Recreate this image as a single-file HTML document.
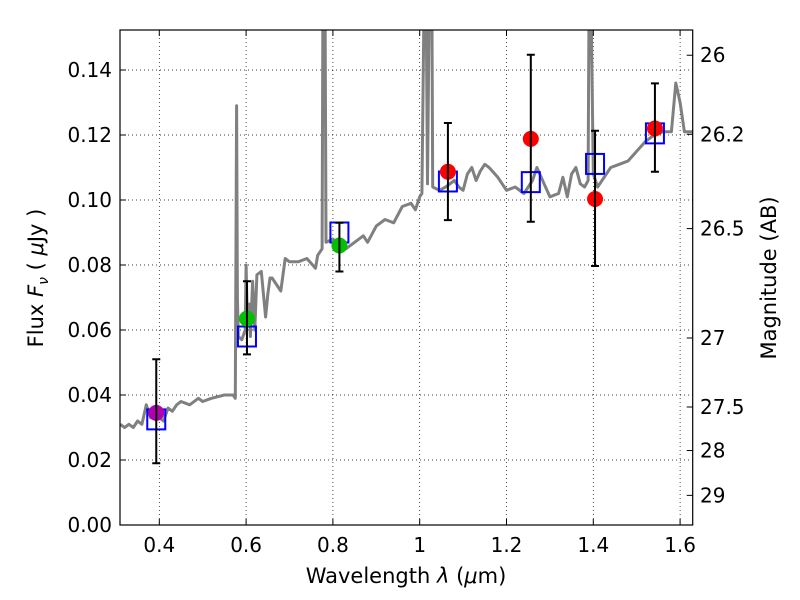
<!DOCTYPE html>
<html><head><meta charset="utf-8"><style>
body{margin:0;background:#fff}
svg{display:block;font-family:"DejaVu Sans","Liberation Sans",sans-serif}
</style></head><body>
<svg id="chart" width="800" height="600" viewBox="0 0 800 600" xmlns="http://www.w3.org/2000/svg">
<defs><clipPath id="clip"><rect x="120" y="30" width="572.7" height="495"/></clipPath></defs>
<rect width="800" height="600" fill="#fff"/>
<g id="grid"></g>
<g id="spec" clip-path="url(#clip)"></g>
<g id="marks"></g>
<rect x="120" y="30" width="572.7" height="495" fill="none" stroke="#000" stroke-width="1.2"/>
<g id="axes"></g>
<text x="406" y="583" font-size="21" text-anchor="middle">Wavelength  <tspan font-style="italic">λ</tspan> (<tspan font-style="italic">μ</tspan>m)</text>
<text transform="translate(43,278) rotate(-90)" font-size="21" text-anchor="middle">Flux  <tspan font-style="italic">F</tspan><tspan font-style="italic" font-size="14" dy="5">ν</tspan><tspan dy="-5">  ( </tspan><tspan font-style="italic">μ</tspan>Jy )</text>
<text transform="translate(776,278) rotate(-90)" font-size="21" text-anchor="middle">Magnitude (AB)</text>
</svg>
<script>
const xTicks=[0.4,0.6,0.8,1.0,1.2,1.4,1.6];
const xTickLabels=["0.4","0.6","0.8","1","1.2","1.4","1.6"];
const yTicks=[0,0.02,0.04,0.06,0.08,0.10,0.12,0.14];
const yTickLabels=["0.00","0.02","0.04","0.06","0.08","0.10","0.12","0.14"];
const magTicks=[26,26.2,26.5,27,27.5,28,29];
const magTickLabels=["26","26.2","26.5","27","27.5","28","29"];
const specWave=[0.31,0.32,0.33,0.34,0.35,0.36,0.37,0.38,0.39,0.40,0.41,0.42,0.43,0.44,0.45,0.47,0.49,0.50,0.52,0.55,0.57,0.575,0.578,0.58,0.582,0.59,0.598,0.60,0.603,0.607,0.61,0.615,0.62,0.625,0.635,0.645,0.65,0.655,0.66,0.68,0.69,0.70,0.72,0.74,0.76,0.765,0.775,0.777,0.782,0.784,0.80,0.81,0.83,0.85,0.87,0.88,0.90,0.92,0.94,0.96,0.98,0.99,1.0,1.005,1.01,1.015,1.018,1.022,1.028,1.03,1.045,1.06,1.08,1.09,1.10,1.11,1.12,1.13,1.14,1.15,1.16,1.18,1.20,1.22,1.24,1.26,1.27,1.28,1.30,1.32,1.33,1.34,1.35,1.36,1.37,1.38,1.388,1.39,1.395,1.40,1.41,1.42,1.44,1.46,1.48,1.50,1.52,1.54,1.56,1.58,1.59,1.60,1.61,1.63];
const specFlux=[0.031,0.030,0.031,0.030,0.032,0.031,0.037,0.033,0.034,0.033,0.032,0.036,0.035,0.037,0.038,0.037,0.039,0.038,0.039,0.040,0.040,0.039,0.129,0.070,0.058,0.057,0.060,0.080,0.062,0.068,0.058,0.075,0.060,0.077,0.078,0.064,0.071,0.076,0.076,0.072,0.082,0.081,0.081,0.082,0.079,0.083,0.085,0.16,0.16,0.087,0.088,0.086,0.085,0.087,0.089,0.087,0.092,0.094,0.093,0.098,0.099,0.097,0.101,0.102,0.16,0.16,0.105,0.16,0.16,0.104,0.103,0.104,0.106,0.104,0.103,0.108,0.110,0.106,0.109,0.111,0.110,0.107,0.103,0.104,0.102,0.106,0.110,0.107,0.101,0.102,0.107,0.101,0.108,0.110,0.105,0.104,0.106,0.16,0.16,0.108,0.104,0.106,0.110,0.111,0.112,0.115,0.118,0.120,0.121,0.121,0.136,0.130,0.121,0.121];
const obsWave=[0.393,0.602,0.815,1.065,1.256,1.404,1.542];
const obsFlux=[0.0345,0.0635,0.086,0.1087,0.1188,0.1003,0.122];
const obsErrLo=[0.019,0.0525,0.078,0.0938,0.0933,0.0797,0.1087];
const obsErrHi=[0.051,0.075,0.093,0.1237,0.1447,0.1213,0.1359];
const obsColor=["#b000b0","#00c000","#00c000","#ff0000","#ff0000","#ff0000","#ff0000"];
const modelFlux=[0.0325,0.058,0.090,0.1057,0.1055,0.1111,0.1205];

const NS="http://www.w3.org/2000/svg";
const X=v=>159.3+(v-0.4)*434;
const Y=v=>525-v*3250;
function mk(tag,attrs,parent,text){const e=document.createElementNS(NS,tag);for(const k in attrs)e.setAttribute(k,attrs[k]);if(text!==undefined)e.textContent=text;parent.appendChild(e);return e;}
const grid=document.getElementById('grid'),axes=document.getElementById('axes'),spec=document.getElementById('spec'),marks=document.getElementById('marks');
xTicks.forEach((t,i)=>{const x=X(t);
 let g=mk('line',{x1:x,x2:x,y1:30,y2:525,stroke:'#000','stroke-width':0.7,'stroke-dasharray':'1,3'},grid);
 
 mk('line',{x1:x,x2:x,y1:525,y2:519,stroke:'#000'},axes);mk('line',{x1:x,x2:x,y1:30,y2:36,stroke:'#000'},axes);
 let l=mk('text',{x:x,y:552,'font-size':20,'text-anchor':'middle'},axes,xTickLabels[i]);
 });
yTicks.forEach((t,i)=>{const y=Y(t);
 if(i>0){let g=mk('line',{x1:120,x2:692.7,y1:y,y2:y,stroke:'#000','stroke-width':0.7,'stroke-dasharray':'1,3'},grid);
 }
 mk('line',{x1:120,x2:126,y1:y,y2:y,stroke:'#000'},axes);
 let l=mk('text',{x:112,y:y+7,'font-size':20,'text-anchor':'end'},axes,yTickLabels[i]);
 });
magTicks.forEach((m,i)=>{const y=Y(Math.pow(10,(23.9-m)/2.5));
 mk('line',{x1:692.7,x2:686.7,y1:y,y2:y,stroke:'#000'},axes);
 let l=mk('text',{x:700,y:y+7,'font-size':20},axes,magTickLabels[i]);
 });
let d=specWave.map((w,i)=>(i?'L':'M')+X(w).toFixed(1)+','+Y(specFlux[i]).toFixed(1)).join(' ');
let p=mk('path',{d:d,fill:'none',stroke:'#808080','stroke-width':3,'stroke-linejoin':'round'},spec);

obsWave.forEach((w,i)=>{const x=X(w);
 let s=mk('rect',{x:x-9,y:Y(modelFlux[i])-10,width:18,height:20,fill:'none',stroke:'#0000ff','stroke-width':2},marks);
 });
obsWave.forEach((w,i)=>{const x=X(w);
 let c=mk('circle',{cx:x,cy:Y(obsFlux[i]),r:8,fill:obsColor[i]},marks);
 
 let e=mk('path',{d:`M${x},${Y(obsErrLo[i])}V${Y(obsErrHi[i])}M${x-4},${Y(obsErrLo[i])}H${x+4}M${x-4},${Y(obsErrHi[i])}H${x+4}`,stroke:'#000','stroke-width':2,fill:'none'},marks);
 });
</script>
</body></html>
